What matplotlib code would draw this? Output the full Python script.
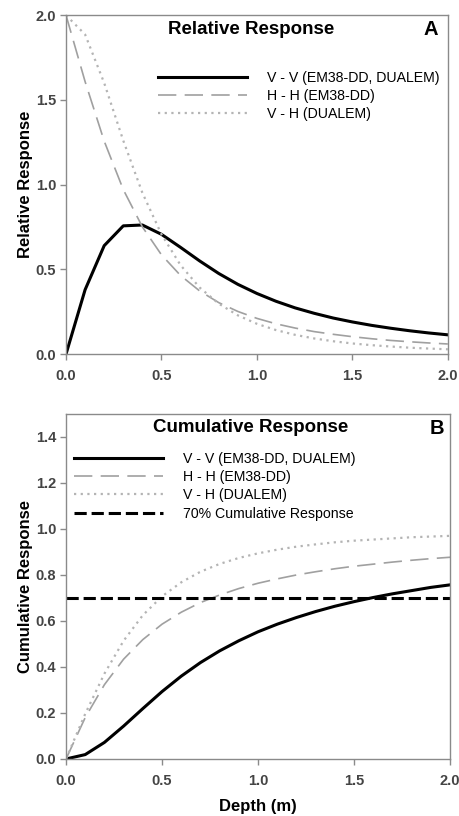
import matplotlib
matplotlib.use("Agg")
import matplotlib.pyplot as plt

plt.rcParams['font.family'] = ['Liberation Sans', 'DejaVu Sans']

depth = [0.0, 0.1, 0.2, 0.3, 0.4, 0.5, 0.6, 0.7, 0.8, 0.9, 1.0,
         1.1, 1.2, 1.3, 1.4, 1.5, 1.6, 1.7, 1.8, 1.9, 2.0]

rel_vv = [0.0, 0.38, 0.64, 0.757, 0.762, 0.707, 0.63, 0.55, 0.476, 0.412, 0.358,
          0.312, 0.273, 0.241, 0.213, 0.19, 0.17, 0.153, 0.138, 0.125, 0.114]
rel_hh = [2.0, 1.608, 1.257, 0.971, 0.751, 0.586, 0.464, 0.373, 0.304, 0.252, 0.211,
          0.179, 0.154, 0.133, 0.117, 0.103, 0.091, 0.081, 0.073, 0.066, 0.06]
rel_vh = [2.0, 1.886, 1.60, 1.26, 0.952, 0.707, 0.525, 0.393, 0.298, 0.229, 0.179,
          0.142, 0.114, 0.0925, 0.076, 0.063, 0.053, 0.045, 0.038, 0.033, 0.0285]

cum_vv = [0.0, 0.019, 0.072, 0.143, 0.219, 0.293, 0.36, 0.419, 0.47, 0.514, 0.553,
          0.586, 0.615, 0.641, 0.664, 0.684, 0.702, 0.718, 0.732, 0.746, 0.757]
cum_hh = [0.0, 0.18, 0.323, 0.434, 0.519, 0.586, 0.638, 0.68, 0.713, 0.741, 0.764,
          0.783, 0.8, 0.814, 0.827, 0.838, 0.847, 0.856, 0.864, 0.871, 0.877]
cum_vh = [0.0, 0.196, 0.371, 0.514, 0.625, 0.707, 0.768, 0.814, 0.848, 0.874, 0.894,
          0.91, 0.923, 0.933, 0.942, 0.949, 0.954, 0.959, 0.964, 0.967, 0.97]
threshold = 0.70

labels = ['V - V (EM38-DD, DUALEM)', 'H - H (EM38-DD)', 'V - H (DUALEM)']
label_70 = '70% Cumulative Response'
x_ticks = [0.0, 0.5, 1.0, 1.5, 2.0]
yticks_a = [0.0, 0.5, 1.0, 1.5, 2.0]
yticks_b = [0.0, 0.2, 0.4, 0.6, 0.8, 1.0, 1.2, 1.4]

fig = plt.figure(figsize=(4.6, 8.16), dpi=100)
axA = fig.add_axes([0.1435, 0.566, 0.830, 0.4154])
axB = fig.add_axes([0.1435, 0.0699, 0.835, 0.4228])

vv_style = dict(color='black', lw=2.2, ls='-')
hh_style = dict(color='#a0a0a0', lw=1.2, ls=(0, (11, 5)))
vh_style = dict(color='#b4b4b4', lw=1.6, ls=(0, (1, 2)))

tick_color = '#444444'
spine_color = '#8a8a8a'

def style_axes(ax, yticks, ylim):
    ax.set_xlim(0, 2.0)
    ax.set_ylim(*ylim)
    ax.set_xticks(x_ticks)
    ax.set_xticklabels([f'{t:.1f}' for t in x_ticks])
    ax.set_yticks(yticks)
    ax.set_yticklabels([f'{t:.1f}' for t in yticks])
    for s in ax.spines.values():
        s.set_color(spine_color)
        s.set_linewidth(1.0)
    ax.tick_params(direction='out', length=4, width=1, color=spine_color,
                   labelsize=10.5, labelcolor=tick_color, pad=3)
    ax.tick_params(axis='x', pad=7)
    for lab in ax.get_xticklabels() + ax.get_yticklabels():
        lab.set_fontweight('bold')

# Panel A
axA.plot(depth, rel_vv, label=labels[0], **vv_style)
axA.plot(depth, rel_hh, label=labels[1], **hh_style)
axA.plot(depth, rel_vh, label=labels[2], **vh_style)
style_axes(axA, yticks_a, (0, 2.0))
axA.set_ylabel('Relative Response', fontsize=12, fontweight='bold', labelpad=2)
axA.text(0.484, 0.958, 'Relative Response', transform=axA.transAxes,
         ha='center', va='center', fontsize=13.5, fontweight='bold')
axA.text(0.955, 0.958, 'A', transform=axA.transAxes,
         ha='center', va='center', fontsize=14.5, fontweight='bold')
axA.legend(loc='upper left', bbox_to_anchor=(0.24, 0.835), frameon=False,
           fontsize=10.2, handlelength=6.3, handletextpad=1.4,
           labelspacing=0.28, borderpad=0, borderaxespad=0)

# Panel B
axB.plot(depth, cum_vv, label=labels[0], **vv_style)
axB.plot(depth, cum_hh, label=labels[1], **hh_style)
axB.plot(depth, cum_vh, label=labels[2], **vh_style)
axB.axhline(threshold, color='black', lw=2.2, ls=(0, (4, 1.6)), label=label_70)
style_axes(axB, yticks_b, (0, 1.5))
axB.set_ylabel('Cumulative Response', fontsize=12, fontweight='bold', labelpad=2)
axB.set_xlabel('Depth (m)', fontsize=12, fontweight='bold', labelpad=8)
axB.text(0.48, 0.962, 'Cumulative Response', transform=axB.transAxes,
         ha='center', va='center', fontsize=13.5, fontweight='bold')
axB.text(0.965, 0.958, 'B', transform=axB.transAxes,
         ha='center', va='center', fontsize=14.5, fontweight='bold')
axB.legend(loc='upper left', bbox_to_anchor=(0.02, 0.89), frameon=False,
           fontsize=10.2, handlelength=6.3, handletextpad=1.4,
           labelspacing=0.3, borderpad=0, borderaxespad=0)

fig.savefig('out.png', dpi=100)
